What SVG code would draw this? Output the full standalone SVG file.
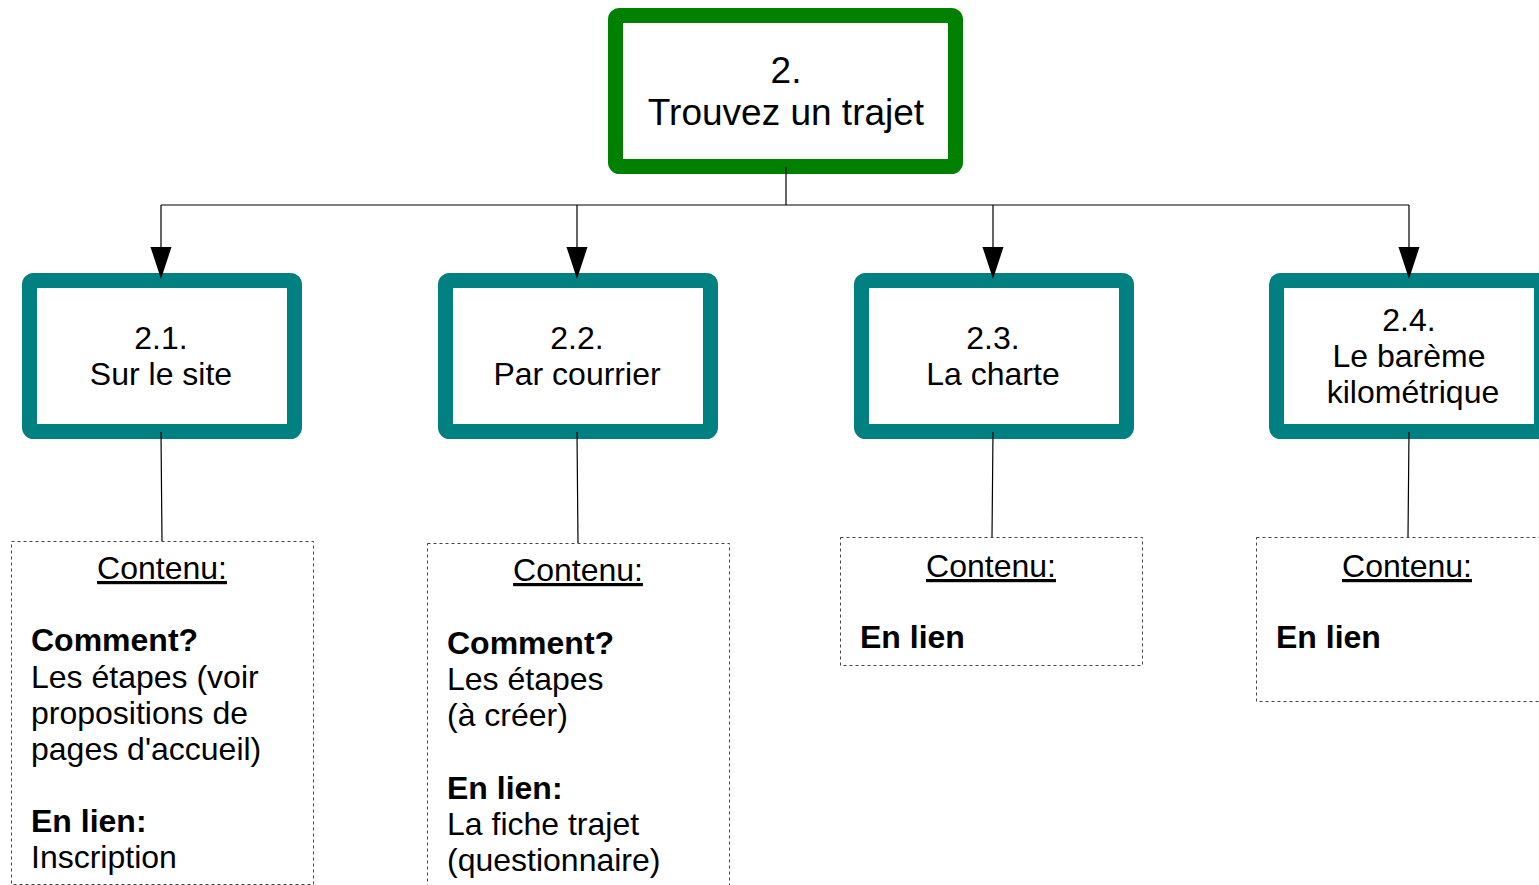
<svg xmlns="http://www.w3.org/2000/svg" width="1539" height="885" viewBox="0 0 1539 885">
<style>
text{font-family:"Liberation Sans",Arial,sans-serif;fill:#000}
.t36{font-size:37px;text-anchor:middle}
.t32c{font-size:32px;text-anchor:middle}
.t32{font-size:32px}
.b{font-weight:bold}
.u{text-decoration:underline}
.main{fill:#fff;stroke:#008000;stroke-width:15}
.sub{fill:#fff;stroke:#008080;stroke-width:15}
.dash{fill:#fff;stroke:#444;stroke-width:1;stroke-dasharray:3 3}
.con{fill:none;stroke:#000;stroke-width:1.2}
.arr{fill:#000}
</style>
<rect width="1539" height="885" fill="#fff"/>
<g id="n2">
<rect class="main" x="615.5" y="15.5" width="340" height="151" rx="4"/>
<text class="t36" x="786" y="83">2.</text>
<text class="t36" x="786" y="125">Trouvez un trajet</text>
</g>
<g id="n21">
<rect class="sub" x="29.5" y="280.5" width="265" height="151" rx="4"/>
<text class="t32c" x="161" y="349">2.1.</text>
<text class="t32c" x="161" y="385">Sur le site</text>
</g>
<g id="n22">
<rect class="sub" x="445.5" y="280.5" width="265" height="151" rx="4"/>
<text class="t32c" x="577" y="349">2.2.</text>
<text class="t32c" x="577" y="385">Par courrier</text>
</g>
<g id="n23">
<rect class="sub" x="861.5" y="280.5" width="265" height="151" rx="4"/>
<text class="t32c" x="993" y="349">2.3.</text>
<text class="t32c" x="993" y="385">La charte</text>
</g>
<g id="n24">
<rect class="sub" x="1276.5" y="280.5" width="265" height="151" rx="4"/>
<text class="t32c" x="1409" y="331">2.4.</text>
<text class="t32c" x="1409" y="367">Le barème</text>
<text class="t32c" x="1413" y="403">kilométrique</text>
</g>
<g id="c21">
<rect class="dash" x="11.5" y="541.5" width="302" height="343"/>
<text class="t32c u" x="162" y="579">Contenu:</text>
<text class="t32 b" x="31" y="651">Comment?</text>
<text class="t32" x="31" y="688">Les étapes (voir</text>
<text class="t32" x="31" y="724">propositions de</text>
<text class="t32" x="31" y="760">pages d'accueil)</text>
<text class="t32 b" x="31" y="832">En lien:</text>
<text class="t32" x="31" y="868">Inscription</text>
</g>
<g id="c22">
<rect class="dash" x="427.5" y="543.5" width="302" height="350"/>
<text class="t32c u" x="578" y="581">Contenu:</text>
<text class="t32 b" x="447" y="654">Comment?</text>
<text class="t32" x="447" y="690">Les étapes</text>
<text class="t32" x="447" y="726">(à créer)</text>
<text class="t32 b" x="447" y="799">En lien:</text>
<text class="t32" x="447" y="835">La fiche trajet</text>
<text class="t32" x="447" y="871">(questionnaire)</text>
</g>
<g id="c23">
<rect class="dash" x="840.5" y="537.5" width="302" height="128"/>
<text class="t32c u" x="991" y="577">Contenu:</text>
<text class="t32 b" x="860" y="648">En lien</text>
</g>
<g id="c24">
<rect class="dash" x="1256.5" y="537.5" width="302" height="164"/>
<text class="t32c u" x="1407" y="577">Contenu:</text>
<text class="t32 b" x="1276" y="648">En lien</text>
</g>
<g id="connectors">
<path class="con" d="M786 167V205M161 205H1409M161 205V250M577 205V250M993 205V250M1409 205V250"/>
<polygon class="arr" points="150.5,247 171.5,247 161,279"/>
<polygon class="arr" points="566.5,247 587.5,247 577,279"/>
<polygon class="arr" points="982.5,247 1003.5,247 993,279"/>
<polygon class="arr" points="1398.5,247 1419.5,247 1409,279"/>
<path class="con" d="M161 432L162 541M577 432L578 543M993 432L992 537M1409 432L1408 537"/>
</g>
</svg>
